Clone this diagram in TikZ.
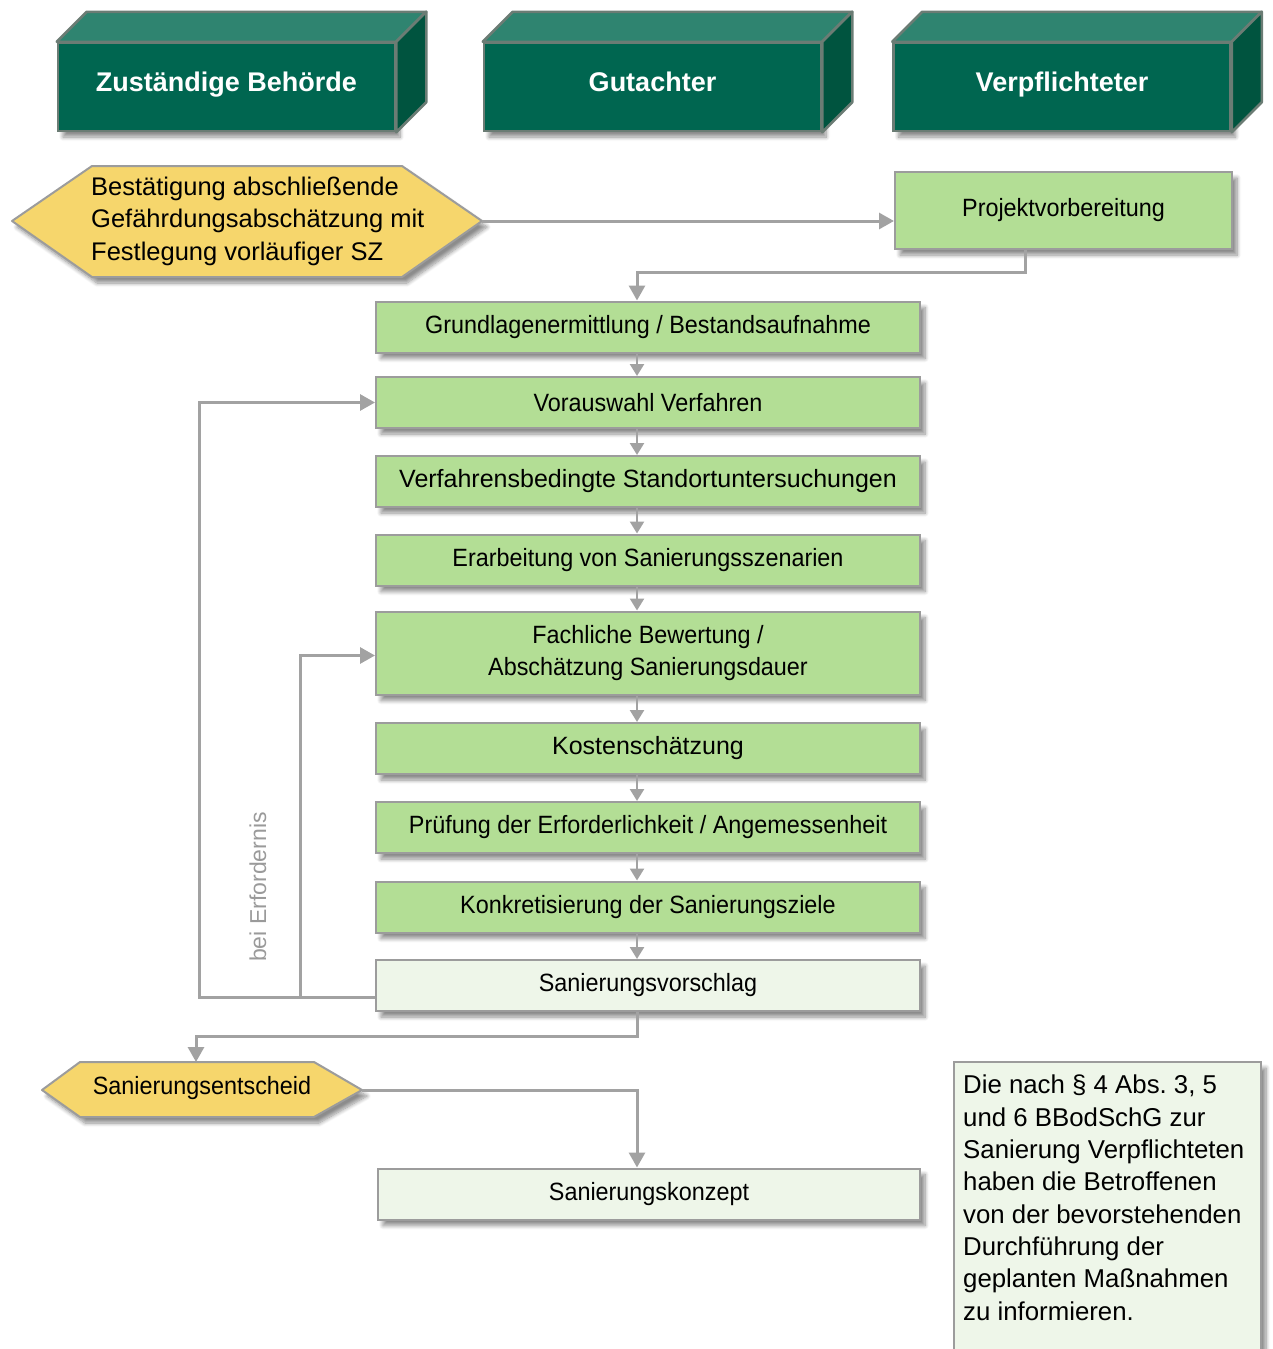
\documentclass[tikz,border=0pt]{standalone}
\usepackage{fontspec}
\setmainfont{Liberation Sans}
\newfontfamily\condensed{Liberation Sans}[FakeStretch=0.935]
\usetikzlibrary{arrows.meta,shadows.blur,calc}
\frenchspacing

\definecolor{hdfront}{HTML}{006650}
\definecolor{hdtop}{HTML}{2F8470}
\definecolor{hdside}{HTML}{00543F}
\definecolor{hdedge}{HTML}{6B7C74}
\definecolor{stepgreen}{HTML}{B3DE95}
\definecolor{steplight}{HTML}{EEF6E9}
\definecolor{hexyellow}{HTML}{F6D66C}
\definecolor{boxedge}{HTML}{9C9C9C}
\definecolor{linkgray}{HTML}{A2A2A2}
\definecolor{notegray}{HTML}{9A9A9A}

\begin{document}
\begin{tikzpicture}[x=1pt,y=-1pt,
  softshadow/.style={blur shadow={shadow xshift=5pt,shadow yshift=-6pt,
      shadow blur radius=4pt,shadow blur steps=8,shadow opacity=45}},
  head/.style={draw=hdedge,line width=2.5pt,fill=hdfront,text=white,
      font=\bfseries\fontsize{27}{32}\selectfont,minimum width=337pt,
      minimum height=88pt,inner sep=0pt,text height=20pt,text depth=12pt,softshadow},
  topface/.style={draw=hdedge,line width=2.5pt,fill=hdtop,line join=round},
  sideface/.style={draw=hdedge,line width=2.5pt,fill=hdside,line join=round},
  stepbox/.style={draw=boxedge,line width=2pt,fill=stepgreen,minimum width=544pt,
      minimum height=51pt,inner sep=0pt,font=\fontsize{25}{32.5}\selectfont,
      align=center,softshadow},
  lightbox/.style={stepbox,fill=steplight},
  hexshape/.style={draw=boxedge,line width=2pt,fill=hexyellow,line join=round,softshadow},
  hextext/.style={inner sep=0pt,align=left,font=\fontsize{25.5}{32.5}\selectfont},
  link/.style={draw=linkgray,line width=3pt,-{Triangle[length=15pt,width=16pt]}},
  stepline/.style={draw=linkgray,line width=2.5pt,-{Triangle[length=12pt,width=14pt]}},
]
\useasboundingbox (0,0) rectangle (1273,1349);

% --- column headers drawn as 3D blocks
\foreach \nm/\cx/\txt in {hA/226.5/Zuständige Behörde, hB/652.5/Gutachter, hC/1062/Verpflichteter}{
  \node[head] (\nm) at (\cx,87) {\txt};
  \path[topface] (\nm.north west) -- ++(30,-30) -- ($(\nm.north east)+(30,-30)$)
     -- (\nm.north east) -- cycle;
  \path[sideface] (\nm.north east) -- ++(30,-30) -- ($(\nm.south east)+(30,-30)$)
     -- (\nm.south east) -- cycle;
}

% --- starting decision
\path[hexshape] (12,221) -- (92,166) -- (402,166) -- (482,221) -- (402,277)
   -- (92,277) -- cycle;
\coordinate (bestR) at (482,221);
\node[hextext,anchor=west] (bestT) at (91,221)
  {Bestätigung abschließende\\Gefährdungsabschätzung mit\\Festlegung vorläufiger SZ};

\node[stepbox,minimum width=337pt,minimum height=77pt,font=\condensed\fontsize{25}{30}\selectfont]
  (proj) at (1063.5,210.5) {Projektvorbereitung};

% --- main sequence of steps
\node[stepbox,font=\condensed\fontsize{25}{30}\selectfont] (n1) at (648,327)
  {Grundlagenermittlung / Bestandsaufnahme};
\node[stepbox,font=\condensed\fontsize{25}{30}\selectfont] (n2) at (648,402.5)
  {Vorauswahl Verfahren};
\node[stepbox] (n3) at (648,481.5) {Verfahrensbedingte Standortuntersuchungen};
\node[stepbox,font=\condensed\fontsize{25}{30}\selectfont] (n4) at (648,560)
  {Erarbeitung von Sanierungsszenarien};
\node[stepbox,minimum height=83pt,font=\condensed\fontsize{25}{32.5}\selectfont] (n5) at (648,653)
  {Fachliche Bewertung /\\Abschätzung Sanierungsdauer};
\node[stepbox] (n6) at (648,748.5) {Kostenschätzung};
\node[stepbox,font=\condensed\fontsize{25}{30}\selectfont] (n7) at (648,827.5)
  {Prüfung der Erforderlichkeit / Angemessenheit};
\node[stepbox,font=\condensed\fontsize{25}{30}\selectfont] (n8) at (648,907)
  {Konkretisierung der Sanierungsziele};
\node[lightbox,font=\condensed\fontsize{25}{30}\selectfont] (n9) at (648,985.5)
  {Sanierungsvorschlag};

% --- decision and concept
\path[hexshape] (42,1090) -- (80,1062) -- (314,1062) -- (362,1090) -- (314,1117)
   -- (80,1117) -- cycle;
\coordinate (entTop) at (196,1062);
\coordinate (entR) at (362,1090);
\node[hextext,font=\condensed\fontsize{25}{30}\selectfont] (entT) at (202,1088)
  {Sanierungsentscheid};

\node[lightbox,minimum width=542pt,font=\condensed\fontsize{25}{30}\selectfont] (konz) at (649,1194)
  {Sanierungskonzept};

% --- note
\node[draw=boxedge,line width=2pt,fill=steplight,minimum width=307pt,minimum height=300pt,
  inner sep=0pt,anchor=north west,softshadow] (note) at (953,1061) {};
\node[inner sep=0pt,anchor=north west,align=left,font=\fontsize{25.8}{32.3}\selectfont]
  (noteT) at (963,1075)
  {Die nach § 4 Abs. 3, 5\\und 6 BBodSchG zur\\Sanierung Verpflichteten\\haben die Betroffenen\\von der bevorstehenden\\Durchführung der\\geplanten Maßnahmen\\zu informieren.};

% --- connectors
\coordinate (col) at (637,0);
\coordinate (projOut) at (1025,0);
\coordinate (bendA) at (637,272);
\coordinate (loopA) at (199,997);
\coordinate (loopB) at (300,997);
\coordinate (bendB) at (196,1036);

\draw[link] (bestR) -- (bestR -| proj.west);
\draw[link] (proj.south -| projOut) |- (bendA) -- (n1.north -| col);

\foreach \a/\b in {n1/n2,n2/n3,n3/n4,n4/n5,n5/n6,n6/n7,n7/n8,n8/n9}{
  \draw[stepline] (\a.south -| col) -- (\b.north -| col);
}

\draw[link] (n9.west |- loopA) -- (loopA) |- (n2.west);
\draw[link] (loopB) |- ([yshift=-2.5pt]n5.west);
\node[rotate=90,text=notegray,font=\fontsize{23}{28}\selectfont,inner sep=0pt]
  (bedarf) at (258,887) {bei Erfordernis};

\draw[link] (n9.south -| col) |- (bendB) -- (entTop);
\draw[link] (entR) -- (entR -| col) -- (konz.north -| col);

\end{tikzpicture}
\end{document}
